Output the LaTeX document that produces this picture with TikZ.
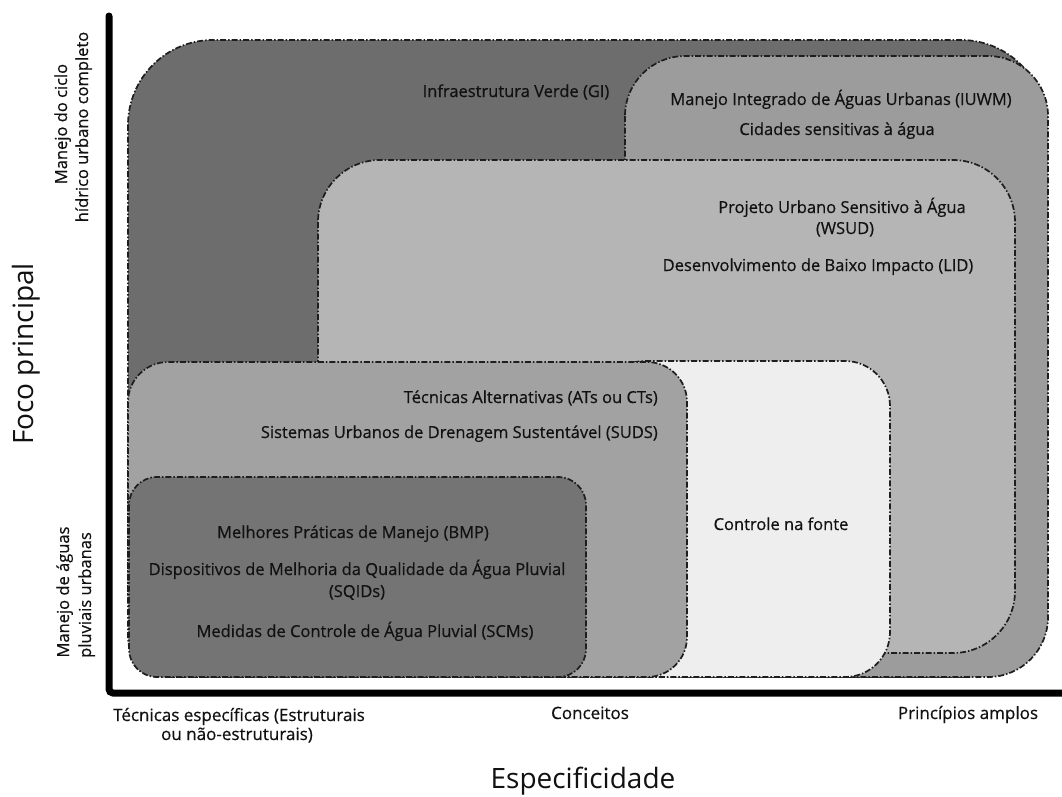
\documentclass[tikz,border=0pt]{standalone}
\usepackage{fontspec}
\setmainfont{Open Sans}
\newfontfamily\semifont[FakeBold=0.5]{Open Sans}
\definecolor{giC}{HTML}{6D6D6D}
\definecolor{iuwmC}{HTML}{9C9C9C}
\definecolor{wsudC}{HTML}{B5B5B5}
\definecolor{srcC}{HTML}{EEEEEE}
\definecolor{sudsC}{HTML}{A2A2A2}
\definecolor{bmpC}{HTML}{747474}
\definecolor{edgeC}{HTML}{1E1E1E}
\definecolor{txtC}{HTML}{111111}
\begin{document}
\begin{tikzpicture}[x=1pt,y=-1pt,
  region/.style={draw=edgeC, line width=1.7pt, dash pattern=on 6pt off 2pt on 1.5pt off 2pt},
  lbl/.style={font=\semifont\fontsize{16.5}{20}\selectfont, text=txtC, inner sep=0pt, anchor=base},
  axlbl/.style={font=\semifont\fontsize{17}{20}\selectfont, text=txtC, inner sep=0pt, anchor=base},
  biglbl/.style={font=\fontsize{28}{32}\selectfont, text=txtC, inner sep=0pt, anchor=base}]
\useasboundingbox (0,0) rectangle (1062,796);
\fill[white] (0,0) rectangle (1062,796);
% regions
\draw[region, fill=giC, rounded corners=85pt] (128,40) rectangle (1046,677);
\draw[region, fill=iuwmC, rounded corners=60pt] (625,56) rectangle (1048,677);
\draw[region, fill=wsudC, rounded corners=62pt] (318,160) rectangle (1015,653);
\draw[region, fill=srcC, rounded corners=45pt] (600,361) rectangle (890,677);
\draw[region, fill=sudsC, rounded corners=40pt] (128,362) rectangle (687,677);
\draw[region, fill=bmpC, rounded corners=28pt] (129,477) rectangle (586,677);
% axes
\draw[line width=7pt, line cap=round, rounded corners=4pt] (109,16) -- (109,693) -- (1066,693);
% region labels
\node[lbl] (gi) at (516,97) {Infraestrutura Verde (GI)};
\node[lbl] (iuwm) at (841,105) {Manejo Integrado de Águas Urbanas (IUWM)};
\node[lbl] (csa) at (837,135) {Cidades sensitivas à água};
\node[lbl] (wsud1) at (842,213) {Projeto Urbano Sensitivo à Água};
\node[lbl] (wsud2) at (845,234) {(WSUD)};
\node[lbl] (lid) at (818,271) {Desenvolvimento de Baixo Impacto (LID)};
\node[lbl, anchor=base east] (ats) at (658,403) {Técnicas Alternativas (ATs ou CTs)};
\node[lbl, anchor=base east] (suds) at (658,438) {Sistemas Urbanos de Drenagem Sustentável (SUDS)};
\node[lbl] (src) at (781,530) {Controle na fonte};
\node[lbl] (bmp) at (353,538) {Melhores Práticas de Manejo (BMP)};
\node[lbl] (sqid1) at (357,575) {Dispositivos de Melhoria da Qualidade da Água Pluvial};
\node[lbl] (sqid2) at (357,597) {(SQIDs)};
\node[lbl] (scm) at (365,637) {Medidas de Controle de Água Pluvial (SCMs)};
% vertical axis labels
\node[lbl, rotate=90] (top1) at (67,124) {Manejo do ciclo};
\node[lbl, rotate=90] (top2) at (88,127) {hídrico urbano completo};
\node[lbl, rotate=90] (bot1) at (69,592) {Manejo de águas};
\node[lbl, rotate=90] (bot2) at (91,595) {pluviais urbanas};
\node[biglbl, rotate=90] (foco) at (33,354) {Foco principal};
% horizontal axis labels
\node[axlbl] (tec1) at (239,721) {Técnicas específicas (Estruturais};
\node[axlbl] (tec2) at (237,740) {ou não-estruturais)};
\node[axlbl] (conc) at (590,719) {Conceitos};
\node[axlbl] (prin) at (968,719) {Princípios amplos};
\node[biglbl] (esp) at (583,788) {Especificidade};
\end{tikzpicture}
\end{document}
